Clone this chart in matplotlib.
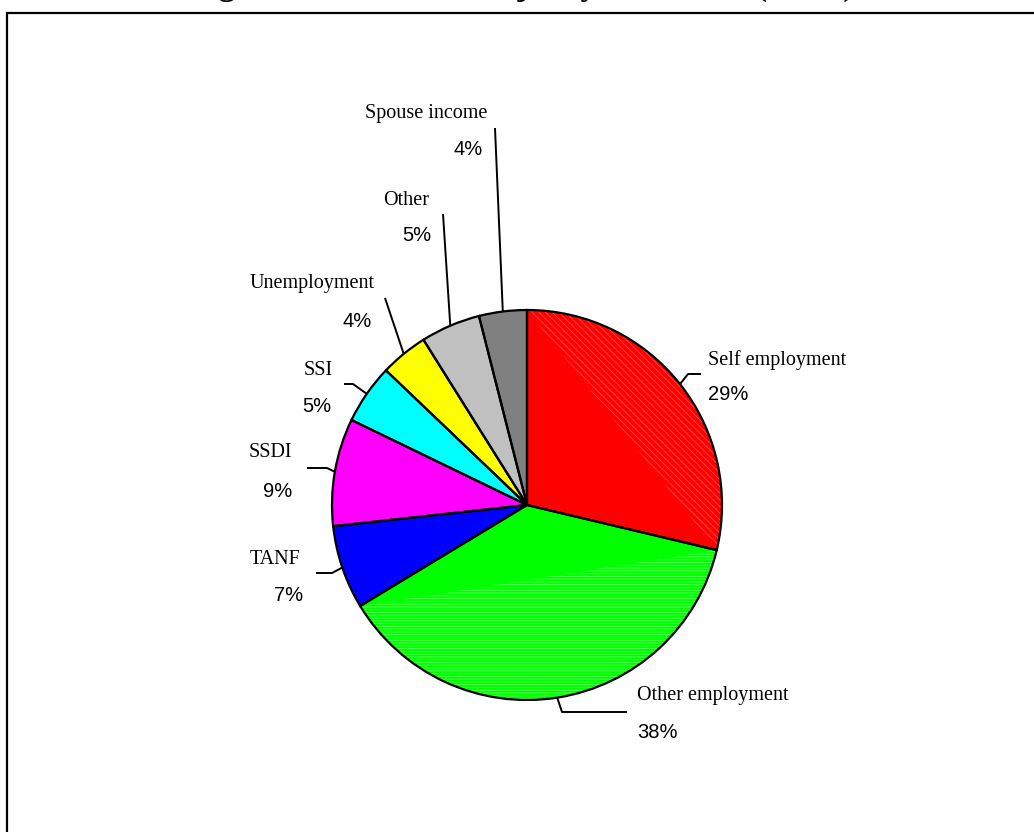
import numpy as np
import matplotlib.pyplot as plt
from matplotlib.patches import Rectangle, Polygon

sources = ['Self employment', 'Other employment', 'TANF', 'SSDI', 'SSI',
           'Unemployment', 'Other', 'Spouse income']
shares = [29, 38, 7, 9, 5, 4, 5, 4]
colors = ['#ff0000', '#00ff00', '#0000ff', '#ff00ff', '#00ffff',
          '#ffff00', '#c0c0c0', '#808080']
streaks = {0: ('#ff4a4a', '\\\\\\\\\\'), 1: ('#5cff5c', '------')}

title = 'Figure 1: Source of Majority of Income (N=58)'

W, H = 1034, 832


def px(x, y):
    # page pixels (origin top-left) -> axes data
    return x, H - y


# name position, percent position, alignment, leader bend points (page pixels)
label_pos = [
    ((708, 365), (708, 400), 'left', [(688, 374), (701, 374)]),
    ((637, 700), (637, 738), 'left', [(562, 712), (627, 712)]),
    ((300, 564), (303, 601), 'right', [(332, 573), (316, 573)]),
    ((292, 457), (292, 497), 'right', [(327, 468), (307, 468)]),
    ((333, 375), (331, 412), 'right', [(353, 384), (344, 384)]),
    ((375, 288), (372, 327), 'right', [(385, 298)]),
    ((429, 205), (431, 241), 'right', [(443, 214)]),
    ((487, 118), (483, 155), 'right', [(495, 128)]),
]

center = px(527, 505)
radius = 195

plt.rcParams['hatch.linewidth'] = 0.6

fig = plt.figure(figsize=(W / 100, H / 100), dpi=100)
ax = fig.add_axes([0, 0, 1, 1])

wedges, _ = ax.pie(shares, colors=colors, startangle=90, counterclock=False,
                   center=center, radius=radius,
                   wedgeprops=dict(linewidth=0))

# lighter streaks between chord and arc on the two big slices
for i, (hc, hatch) in streaks.items():
    w = wedges[i]
    t = np.radians(np.linspace(w.theta1, w.theta2, 80))
    pts = np.column_stack([center[0] + radius * np.cos(t),
                           center[1] + radius * np.sin(t)])
    ax.add_patch(Polygon(pts, closed=True, facecolor=colors[i], edgecolor=hc,
                         linewidth=0, hatch=hatch))

# outlines on top
ax.pie(shares, startangle=90, counterclock=False, center=center, radius=radius,
       wedgeprops=dict(fill=False, edgecolor='black', linewidth=1.6))

for w, name, val, (npos, ppos, ha, bends) in zip(wedges, sources, shares, label_pos):
    mid = np.radians((w.theta1 + w.theta2) / 2)
    start = (center[0] + radius * np.cos(mid), center[1] + radius * np.sin(mid))
    path = [start] + [px(*b) for b in bends]
    xs, ys = zip(*path)
    ax.plot(xs, ys, color='black', linewidth=1.4, solid_capstyle='butt')
    ax.text(*px(*npos), name, ha=ha, va='baseline', fontsize=14.5,
            family=['Liberation Serif', 'DejaVu Serif'])
    ax.text(*px(*ppos), f'{val}%', ha=ha, va='baseline', fontsize=14.5,
            family=['Liberation Sans', 'DejaVu Sans'])

# frame and title, both running off the top of the page
ax.add_patch(Rectangle(px(7, H + 20), W, H + 7, fill=False, edgecolor='black',
                       linewidth=1.6, clip_on=False))
ax.text(*px(522, -5), title, ha='center', va='baseline', fontsize=24,
        fontweight='bold', family=['Liberation Serif', 'DejaVu Serif'],
        clip_on=False)

ax.set_xlim(0, W)
ax.set_ylim(0, H)
ax.axis('off')

fig.savefig('out.png', dpi=100)
